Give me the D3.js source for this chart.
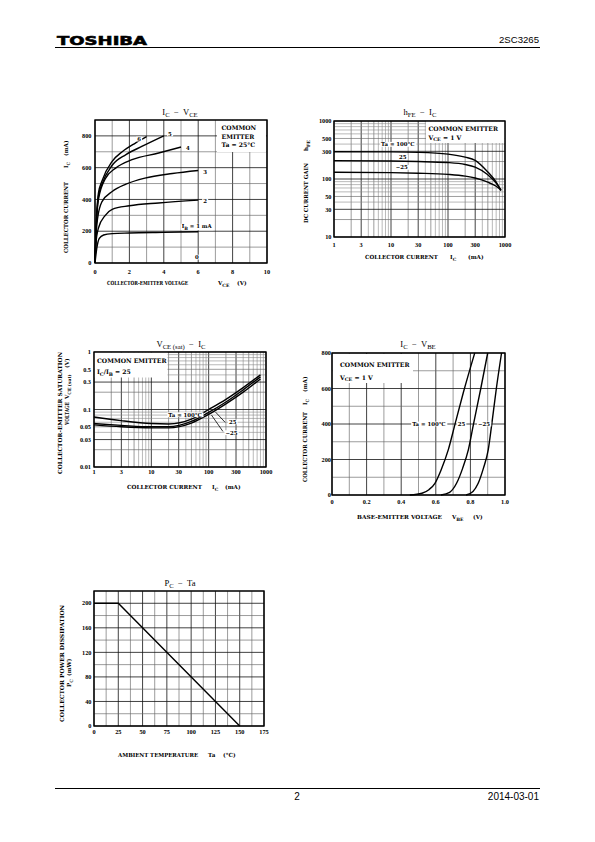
<!DOCTYPE html>
<html><head><meta charset="utf-8">
<script src="https://cdn.jsdelivr.net/npm/d3@7"></script>
<style>
body{margin:0;background:#fff}
svg{display:block}
text{font-family:"DejaVu Serif","Liberation Serif",serif;fill:#000}
</style>
</head><body>
<svg id="page" width="595" height="842"></svg>
<script>
// ===================== DATA =====================
// Chart 1: IC - VCE (Ta = 25°C), series keyed by IB (mA)
const icVce_IB = ["1","2","3","4","5","6"];
const icVce_IB1 = [[0,0],[0.1,90],[0.25,155],[0.5,176],[1,185],[2,189],[4,193],[6,197]];
const icVce_IB2 = [[0,0],[0.05,120],[0.2,220],[0.6,300],[1,338],[2,360],[3.7,378],[6,396]];
const icVce_IB3 = [[0,0],[0.05,150],[0.15,280],[0.4,385],[1,450],[1.8,496],[2.9,534],[4.5,563],[6,582]];
const icVce_IB4 = [[0,0],[0.05,170],[0.2,400],[0.6,530],[1.2,597],[2.15,650],[3.7,692],[5,730]];
const icVce_IB5 = [[0,0],[0.05,180],[0.2,420],[0.4,495],[1,615],[1.8,682],[2.75,735],[4,800]];
const icVce_IB6 = [[0,0],[0.05,190],[0.2,440],[0.4,515],[1,640],[1.6,702],[2.35,755],[3,795]];
const icVce_xTicks = [0,2,4,6,8,10];
const icVce_yTicks = [0,200,400,600,800];

// Chart 2: hFE - IC (VCE = 1 V)
const hfe_T100 = [[1,295],[10,293],[30,288],[100,268],[200,238],[300,210],[500,132],[700,88],[850,63]];
const hfe_T25  = [[1,207],[10,204],[30,200],[100,192],[200,178],[300,160],[500,118],[700,85],[850,64]];
const hfe_Tm25 = [[1,131],[10,129],[30,126],[100,120],[200,112],[300,104],[500,88],[700,75],[850,65]];
const hfe_xTicks = [1,3,10,30,100,300,1000];
const hfe_yTicks = [10,30,50,100,300,500,1000];

// Chart 3: VCE(sat) - IC (IC/IB = 25)
const vsat_T100 = [[1,0.074],[3,0.064],[10,0.057],[20,0.056],[50,0.068],[100,0.1],[200,0.15],[400,0.24],[800,0.40]];
const vsat_T25  = [[1,0.057],[3,0.053],[10,0.05],[20,0.05],[50,0.062],[100,0.089],[200,0.135],[400,0.22],[800,0.37]];
const vsat_Tm25 = [[1,0.054],[3,0.05],[10,0.048],[20,0.048],[50,0.058],[100,0.082],[200,0.125],[400,0.20],[800,0.34]];
const vsat_xTicks = [1,3,10,30,100,300,1000];
const vsat_yTicks = [0.01,0.03,0.05,0.1,0.3,0.5,1];

// Chart 4: IC - VBE (VCE = 1 V)
const vbe_T100 = [[0.45,0],[0.52,10],[0.56,30],[0.595,66],[0.63,140],[0.672,254],[0.71,395],[0.76,580],[0.825,800]];
const vbe_T25  = [[0.63,0],[0.68,15],[0.72,66],[0.755,150],[0.788,254],[0.817,395],[0.86,600],[0.9,800]];
const vbe_Tm25 = [[0.775,0],[0.815,20],[0.845,66],[0.875,150],[0.903,254],[0.923,395],[0.95,600],[0.98,800]];
const vbe_xTicks = [0,0.2,0.4,0.6,0.8,1.0];
const vbe_xLabels = ["0","0.2","0.4","0.6","0.8","1.0"];
const vbe_yTicks = [0,200,400,600,800];

// Chart 5: PC - Ta
const pc_curve = [[0,200],[25,200],[150,0]];
const pc_xTicks = [0,25,50,75,100,125,150,175];
const pc_yTicks = [0,40,80,120,160,200];

// ===================== DRAWING =====================
const svg = d3.select("#page");

function rich(parent, x, y, parts, size, o){
  o = o || {};
  const t = parent.append("text").attr("font-size", size)
    .attr("text-anchor", o.anchor || "middle").style("white-space","pre")
    .attr("font-weight", o.weight || "bold");
  if (o.family) t.style("font-family", o.family);
  if (o.rotate) t.attr("transform", `translate(${x + 0.36*size},${y}) rotate(-90)`);
  else t.attr("x", x).attr("y", y);
  if (o.len) t.attr("textLength", o.len).attr("lengthAdjust", "spacingAndGlyphs");
  let shift = 0;
  parts.forEach(p => {
    const [s, type] = Array.isArray(p) ? p : [p];
    const ts = t.append("tspan").text(s);
    const target = type === "sub" ? (o.subShift || 0.32)*size : 0;
    if (target !== shift){ ts.attr("dy", target - shift); shift = target; }
    if (type === "sub") ts.attr("font-size", size*(o.subScale || 0.8));
  });
  return t;
}
function whiteBg(parent, textSel, pad){
  const b = textSel.node().getBBox();
  parent.insert("rect", () => textSel.node())
    .attr("x", b.x - pad).attr("y", b.y + 0.6).attr("width", b.width + 2*pad).attr("height", b.height - 1.2)
    .attr("fill", "#fff");
}
const AX = 5.6;
function xTitle(g, y, segs){
  segs.forEach(s => rich(g, s.at, y, s.parts, AX, {anchor: "start", len: s.len}));
}
function yTitle(g, x, segs){
  segs.forEach(s => rich(g, x, s.at, s.parts, AX, {anchor: "start", len: s.len, rotate: true}));
}

function logGrid(domain){
  const out = [];
  const lo = Math.round(Math.log10(domain[0])), hi = Math.round(Math.log10(domain[1]));
  for (let e = lo; e < hi; e++){
    for (let m = 1; m <= 9; m++){
      out.push({v: m*Math.pow(10,e), lvl: (m===1||m===3) ? 0 : (m===5||m===2) ? 1 : 2});
    }
  }
  out.push({v: domain[1], lvl: 0});
  return out;
}
function linGrid(domain, step, darkStep){
  return d3.range(domain[0], domain[1] + step/2, step).map(v => ({v, lvl: Math.abs(v/darkStep - Math.round(v/darkStep)) < 1e-6 ? 0 : 1}));
}
const gridCol = ["#111", "#666", "#8a8a8a"];
const gridW = [0.8, 0.65, 0.6];

function chart(o){
  const g = svg.append("g");
  const [x0, x1] = o.xs.range(), [y0, y1] = o.ys.range();
  const inner = g.append("g");
  inner.selectAll("line.v").data(o.xGrid).join("line")
    .attr("x1", d => o.xs(d.v)).attr("x2", d => o.xs(d.v)).attr("y1", y0).attr("y2", y1)
    .attr("stroke", d => gridCol[d.lvl]).attr("stroke-width", d => gridW[d.lvl]);
  inner.selectAll("line.h").data(o.yGrid).join("line")
    .attr("y1", d => o.ys(d.v)).attr("y2", d => o.ys(d.v)).attr("x1", x0).attr("x2", x1)
    .attr("stroke", d => gridCol[d.lvl]).attr("stroke-width", d => gridW[d.lvl]);
  const tickFont = "'Liberation Serif',serif";
  g.selectAll("text.xt").data(o.xTicks).join("text")
    .attr("x", d => o.xs(d)).attr("y", o.xTickY).attr("text-anchor", "middle")
    .attr("font-size", 6.3).attr("font-weight", "bold").style("font-family", tickFont)
    .text((d,i) => o.xLabels ? o.xLabels[i] : d);
  g.selectAll("text.yt").data(o.yTicks).join("text")
    .attr("x", o.yTickX).attr("y", d => o.ys(d) + 2.2).attr("text-anchor", "end")
    .attr("font-size", 6.3).attr("font-weight", "bold").style("font-family", tickFont)
    .text(d => d);
  return {g, inner};
}
function frame(g, o){
  const [x0, x1] = o.xs.range(), [y0, y1] = o.ys.range();
  g.append("rect").attr("x", x0).attr("y", y1).attr("width", x1 - x0).attr("height", y0 - y1)
    .attr("fill", "none").attr("stroke", "#000").attr("stroke-width", 1.4);
}
function curve(g, o, data){
  const line = d3.line().x(d => o.xs(d[0])).y(d => o.ys(d[1])).curve(d3.curveMonotoneX);
  g.append("path").attr("d", line(data)).attr("fill", "none").attr("stroke", "#000").attr("stroke-width", 1.4);
}
const LEG = 6.1;
function legendBox(g, x, y, w, h, lines){
  g.append("rect").attr("x", x).attr("y", y).attr("width", w).attr("height", h).attr("fill", "#fff");
  lines.forEach(l => rich(g, l.x, l.y, l.parts, LEG, {anchor: "start"}));
}
const ANN = 5.4;
function annot(g, x, y, parts, anchor){
  const t = rich(g, x, y, parts, ANN, {anchor: anchor || "middle"});
  whiteBg(g, t, 1);
  return t;
}
const TS = 8.6;
function title(g, x, y, parts){
  rich(g, x, y, parts, TS, {weight: "normal", family: "'Liberation Serif',serif", subScale: 0.78, subShift: 0.26});
}

// ---------- Header / Footer ----------
svg.append("text").attr("x", 57).attr("y", 44.5).attr("font-size", 13)
  .style("font-family", "'DejaVu Sans',sans-serif").attr("font-weight", "bold")
  .attr("stroke", "#000").attr("stroke-width", 0.6)
  .attr("textLength", 90).attr("lengthAdjust", "spacingAndGlyphs").text("TOSHIBA");
svg.append("text").attr("x", 539).attr("y", 43).attr("font-size", 9.6).attr("text-anchor", "end")
  .style("font-family", "'Liberation Sans',Arial,sans-serif").text("2SC3265");
svg.append("line").attr("x1", 55).attr("x2", 540).attr("y1", 47.5).attr("y2", 47.5).attr("stroke", "#000").attr("stroke-width", 1);
svg.append("line").attr("x1", 55).attr("x2", 540).attr("y1", 788.5).attr("y2", 788.5).attr("stroke", "#000").attr("stroke-width", 1);
svg.append("text").attr("x", 297).attr("y", 800).attr("font-size", 10).attr("text-anchor", "middle")
  .style("font-family", "'Liberation Sans',Arial,sans-serif").text("2");
svg.append("text").attr("x", 539).attr("y", 800).attr("font-size", 10).attr("text-anchor", "end")
  .style("font-family", "'Liberation Sans',Arial,sans-serif").text("2014-03-01");

// ---------- Chart 1: IC - VCE ----------
{
  const o = {xs: d3.scaleLinear([0,10],[95,267]), ys: d3.scaleLinear([0,900],[263,120]),
    xTicks: icVce_xTicks, yTicks: icVce_yTicks, xTickY: 273.5, yTickX: 91.5};
  o.xGrid = linGrid([0,10], 1, 2); o.yGrid = linGrid([0,900], 100, 200);
  const {g, inner} = chart(o);
  legendBox(inner, 217, 121, 49, 31, [
    {x: 221.5, y: 130, parts: ["COMMON"]},
    {x: 221.5, y: 138.5, parts: ["EMITTER"]},
    {x: 221.5, y: 147, parts: ["Ta = 25°C"]}]);
  [icVce_IB1, icVce_IB2, icVce_IB3, icVce_IB4, icVce_IB5, icVce_IB6].forEach(s => curve(inner, o, s));
  annot(inner, o.xs(2.56), o.ys(780) + 2, [icVce_IB[5]]);
  annot(inner, o.xs(4.36), o.ys(812) + 2, [icVce_IB[4]]);
  annot(inner, o.xs(5.4), o.ys(722) + 2, [icVce_IB[3]]);
  annot(inner, o.xs(6.4), o.ys(575) + 2, [icVce_IB[2]]);
  annot(inner, o.xs(6.4), o.ys(392) + 2, [icVce_IB[1]]);
  annot(inner, o.xs(5.04), o.ys(232) + 2, ["I", ["B","sub"], " = " + icVce_IB[0] + " mA"], "start");
  annot(inner, o.xs(5.93), o.ys(37) + 2, ["0"]);
  frame(g, o);
  title(g, 180, 115, ["I", ["C","sub"], "  −  V", ["CE","sub"]]);
  xTitle(g, 285, [
    {at: 107, len: 81, parts: ["COLLECTOR-EMITTER VOLTAGE"]},
    {at: 218, parts: ["V", ["CE","sub"]]},
    {at: 237, parts: ["(V)"]}]);
  yTitle(g, 66, [
    {at: 253, len: 71, parts: ["COLLECTOR CURRENT"]},
    {at: 168, parts: ["I", ["C","sub"]]},
    {at: 156, parts: ["(mA)"]}]);
}

// ---------- Chart 2: hFE - IC ----------
{
  const o = {xs: d3.scaleLog([1,1000],[334,505]), ys: d3.scaleLog([10,1000],[237,121]),
    xTicks: hfe_xTicks, yTicks: hfe_yTicks, xTickY: 246.5, yTickX: 331.5};
  o.xGrid = logGrid([1,1000]); o.yGrid = logGrid([10,1000]);
  const {g, inner} = chart(o);
  legendBox(inner, 426, 121.5, 78.5, 21.5, [
    {x: 428.5, y: 130.5, parts: ["COMMON EMITTER"]},
    {x: 428.5, y: 139.5, parts: ["V", ["CE","sub"], " = 1 V"]}]);
  [hfe_T100, hfe_T25, hfe_Tm25].forEach(s => curve(inner, o, s));
  annot(inner, o.xs(13.2), o.ys(396) + 2, ["Ta = 100°C"]);
  annot(inner, o.xs(16.1), o.ys(237) + 2, ["25"]);
  annot(inner, o.xs(15.5), o.ys(159) + 2, ["−25"]);
  frame(g, o);
  title(g, 420, 115, ["h", ["FE","sub"], "  −  I", ["C","sub"]]);
  xTitle(g, 259, [
    {at: 365, len: 73, parts: ["COLLECTOR CURRENT"]},
    {at: 450, parts: ["I", ["C","sub"]]},
    {at: 468, parts: ["(mA)"]}]);
  yTitle(g, 306, [
    {at: 223, len: 60, parts: ["DC CURRENT GAIN"]},
    {at: 151, parts: ["h", ["FE","sub"]]}]);
}

// ---------- Chart 3: VCE(sat) - IC ----------
{
  const o = {xs: d3.scaleLog([1,1000],[94,266]), ys: d3.scaleLog([0.01,1],[467,352]),
    xTicks: vsat_xTicks, yTicks: vsat_yTicks, xTickY: 474, yTickX: 91};
  o.xGrid = logGrid([1,1000]); o.yGrid = logGrid([0.01,1]);
  const {g, inner} = chart(o);
  legendBox(inner, 94.5, 352.5, 73, 25, [
    {x: 97, y: 363, parts: ["COMMON EMITTER"]},
    {x: 97, y: 374, parts: ["I", ["C","sub"], "/I", ["B","sub"], " = 25"]}]);
  [vsat_T100, vsat_T25, vsat_Tm25].forEach(s => curve(inner, o, s));
  annot(inner, o.xs(38.7), o.ys(0.081) + 2, ["Ta = 100°C"]);
  annot(inner, o.xs(262), o.ys(0.061) + 2, ["25"]);
  annot(inner, o.xs(250), o.ys(0.0395) + 2, ["−25"]);
  const seg = [[[194,0.0597],[132,0.09]], [[177,0.0416],[112,0.08]]];
  seg.forEach(s => inner.append("line").attr("x1", o.xs(s[0][0])).attr("y1", o.ys(s[0][1]))
    .attr("x2", o.xs(s[1][0])).attr("y2", o.ys(s[1][1])).attr("stroke", "#000").attr("stroke-width", 0.8));
  frame(g, o);
  title(g, 181, 347, ["V", ["CE (sat)","sub"], "  −  I", ["C","sub"]]);
  xTitle(g, 489, [
    {at: 127, len: 75, parts: ["COLLECTOR CURRENT"]},
    {at: 212, parts: ["I", ["C","sub"]]},
    {at: 225, parts: ["(mA)"]}]);
  yTitle(g, 60, [{at: 474, len: 122, parts: ["COLLECTOR-EMITTER SATURATION"]}]);
  yTitle(g, 67, [
    {at: 425, len: 23, parts: ["VOLTAGE"]},
    {at: 399, parts: ["V", ["CE (sat)","sub"]]},
    {at: 368, parts: ["(V)"]}]);
}

// ---------- Chart 4: IC - VBE ----------
{
  const o = {xs: d3.scaleLinear([0,1],[332,505]), ys: d3.scaleLinear([0,800],[495,353]),
    xTicks: vbe_xTicks, xLabels: vbe_xLabels, yTicks: vbe_yTicks, xTickY: 504, yTickX: 331};
  o.xGrid = linGrid([0,1], 0.1, 0.2); o.yGrid = linGrid([0,800], 100, 200);
  const {g, inner} = chart(o);
  legendBox(inner, 333, 354, 80, 29, [
    {x: 340, y: 366.5, parts: ["COMMON EMITTER"]},
    {x: 340, y: 379.5, parts: ["V", ["CE","sub"], " = 1 V"]}]);
  [vbe_T100, vbe_T25, vbe_Tm25].forEach(s => curve(inner, o, s));
  annot(inner, o.xs(0.56), o.ys(400) + 2, ["Ta = 100°C"]);
  annot(inner, o.xs(0.748), o.ys(400) + 2, ["25"]);
  annot(inner, o.xs(0.879), o.ys(400) + 2, ["−25"]);
  frame(g, o);
  title(g, 418, 347, ["I", ["C","sub"], "  −  V", ["BE","sub"]]);
  xTitle(g, 519, [
    {at: 357, len: 85, parts: ["BASE-EMITTER VOLTAGE"]},
    {at: 452, parts: ["V", ["BE","sub"]]},
    {at: 473, parts: ["(V)"]}]);
  yTitle(g, 305, [
    {at: 482, len: 70, parts: ["COLLECTOR CURRENT"]},
    {at: 405, parts: ["I", ["C","sub"]]},
    {at: 392, parts: ["(mA)"]}]);
}

// ---------- Chart 5: PC - Ta ----------
{
  const o = {xs: d3.scaleLinear([0,175],[94,264]), ys: d3.scaleLinear([0,220],[726,591]),
    xTicks: pc_xTicks, yTicks: pc_yTicks, xTickY: 734, yTickX: 91.5};
  o.xGrid = linGrid([0,175], 12.5, 25); o.yGrid = linGrid([0,220], 20, 40);
  const {g, inner} = chart(o);
  const line = d3.line().x(d => o.xs(d[0])).y(d => o.ys(d[1]));
  inner.append("path").attr("d", line(pc_curve)).attr("fill", "none").attr("stroke", "#000").attr("stroke-width", 1.4);
  frame(g, o);
  title(g, 180, 586, ["P", ["C","sub"], "  −  Ta"]);
  xTitle(g, 757, [
    {at: 118, len: 80, parts: ["AMBIENT TEMPERATURE"]},
    {at: 208, parts: ["Ta"]},
    {at: 223, parts: ["(°C)"]}]);
  yTitle(g, 62, [{at: 722, len: 117, parts: ["COLLECTOR POWER DISSIPATION"]}]);
  yTitle(g, 69, [
    {at: 687, parts: ["P", ["C","sub"]]},
    {at: 676, parts: ["(mW)"]}]);
}
</script>
</body></html>
